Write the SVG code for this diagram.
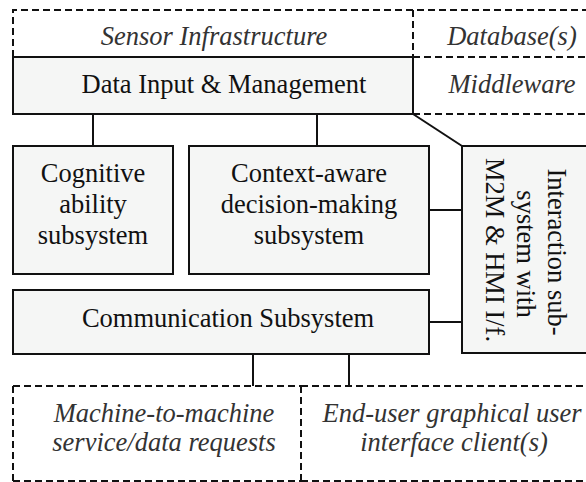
<svg xmlns="http://www.w3.org/2000/svg" width="586" height="482" viewBox="0 0 586 482">
<style>
.box{fill:#f5f6f5;stroke:#111;stroke-width:2}
.dash{fill:none;stroke:#111;stroke-width:2;stroke-dasharray:7,4}
.conn{fill:none;stroke:#111;stroke-width:2}
text{font-family:"Liberation Serif","Times New Roman",serif;font-size:26.5px;fill:#111;text-anchor:middle}
.it{font-style:italic;fill:#333}
</style>
<rect width="586" height="482" fill="#fff"/>
<g id="sensor-infrastructure">
<path class="dash" d="M13,57 V10 H590 M413,10 V57"/>
<text class="it" x="214" y="45">Sensor Infrastructure</text>
</g>
<g id="databases">
<text class="it" x="512" y="45">Database(s)</text>
</g>
<g id="middleware">
<path class="dash" d="M413,57 H590 M413,114 H590"/>
<text class="it" x="512" y="93">Middleware</text>
</g>
<g id="data-input">
<rect class="box" x="13" y="57" width="400" height="57"/>
<text x="224" y="93">Data Input &amp; Management</text>
</g>
<g id="cognitive">
<rect class="box" x="13" y="146" width="160" height="128"/>
<text x="93" y="182">Cognitive</text>
<text x="93" y="213">ability</text>
<text x="93" y="244">subsystem</text>
</g>
<g id="context">
<rect class="box" x="189" y="146" width="240" height="128"/>
<text x="309" y="182">Context-aware</text>
<text x="309" y="213">decision-making</text>
<text x="309" y="244">subsystem</text>
</g>
<g id="communication">
<rect class="box" x="13" y="290" width="416" height="64"/>
<text x="228" y="327">Communication Subsystem</text>
</g>
<g id="interaction">
<rect class="box" x="462" y="146" width="140" height="207"/>
<text transform="translate(548,252) rotate(90)">Interaction sub-</text>
<text transform="translate(517,254) rotate(90)">system with</text>
<text transform="translate(486,250) rotate(90)">M2M &amp; HMI I/f.</text>
</g>
<g id="m2m-requests">
<path class="dash" d="M13,386 H301 M13,386 V482 M13,481 H301"/>
<text class="it" x="164" y="422">Machine-to-machine</text>
<text class="it" x="164" y="451">service/data requests</text>
</g>
<g id="gui-clients">
<path class="dash" d="M301,386 H590 M301,386 V482 M301,481 H590"/>
<text class="it" x="452" y="422">End-user graphical user</text>
<text class="it" x="454" y="451">interface client(s)</text>
</g>
<g id="connectors">
<path class="conn" d="M93,114 V146"/>
<path class="conn" d="M317,114 V146"/>
<path class="conn" d="M413,114 L462,146"/>
<path class="conn" d="M429,210 H462"/>
<path class="conn" d="M429,322 H462"/>
<path class="conn" d="M253,354 V386"/>
<path class="conn" d="M349,354 V386"/>
</g>
</svg>
